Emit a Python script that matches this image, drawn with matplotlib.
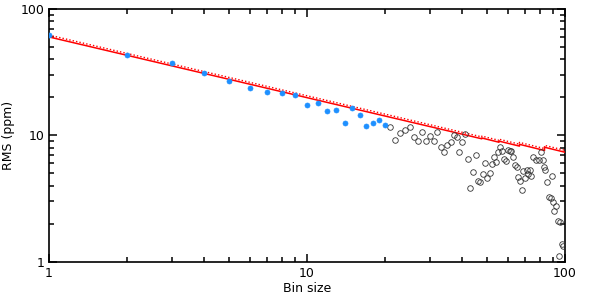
import matplotlib
matplotlib.use("Agg")
import matplotlib.pyplot as plt
from matplotlib.ticker import LogLocator, NullFormatter, FixedLocator, FixedFormatter

# Binned points used in the fit (filled blue)
fit_bins = [1, 2, 3, 4, 5, 6, 7, 8, 9, 10, 11, 12, 13, 14, 15, 16, 17, 18, 19, 20]
fit_rms = [61.8, 42.9, 37.3, 30.9, 27.0, 23.8, 21.9, 21.5, 20.8, 17.4,
           17.9, 15.6, 16.0, 12.5, 16.5, 14.4, 11.9, 12.5, 13.2, 12.0]

# Remaining binned points (open circles)
other_bins = [21, 22, 23, 24, 25, 26, 27, 28, 29, 30, 31, 32, 33, 34, 35, 36, 37, 38, 39, 40,
              41, 42, 43, 44, 45, 46, 47, 48, 49, 50, 51, 52, 53, 54, 55, 56, 57, 58, 59, 60,
              61, 62, 63, 64, 65, 66, 67, 68, 69, 70, 71, 72, 73, 74, 75, 77, 79, 81, 82, 83,
              84, 85, 87, 88, 89, 90, 91, 92, 94, 95, 96, 97, 98]
other_rms = [11.57, 9.13, 10.37, 11.04, 11.57, 9.71, 8.96, 10.64, 8.96, 9.82,
             8.96, 10.56, 8.03, 7.38, 8.39, 8.91, 10.0, 9.76, 7.33, 8.86,
             10.18, 6.50, 3.80, 5.12, 7.03, 4.37, 4.29, 4.94, 6.04, 4.56,
             5.03, 5.93, 6.69, 6.11, 7.38, 8.09, 7.56, 6.45, 6.22, 7.66,
             7.56, 7.46, 6.69, 5.78, 5.64, 4.64, 4.39, 3.69, 5.22, 4.56,
             5.31, 4.94, 5.31, 4.79, 6.69, 6.33, 6.41, 7.38, 6.41, 5.64,
             5.31, 4.27, 3.28, 3.22, 4.81, 2.96, 2.53, 2.77, 2.10, 1.11,
             2.08, 1.39, 1.32]

# Expected white-noise curves (segment end points)
model_bins = [1, 47.6, 47.6, 55.5, 55.5, 66.6, 66.6, 83.3, 83.3, 100]
model_rms = [60.1, 9.39, 9.53, 8.82, 9.00, 8.22, 8.49, 7.59, 8.05, 7.35]
model2_rms = [62.2, 9.72, 9.86, 9.13, 9.32, 8.51, 8.79, 7.86, 8.33, 7.61]

x_ticks = [1, 10, 100]
x_tick_labels = ["1", "10", "100"]
y_ticks = [1, 10, 100]
y_tick_labels = ["1", "10", "100"]

fig = plt.figure(figsize=(5.98, 3.07), dpi=100)
ax = fig.add_axes([0.0819, 0.1476, 0.8629, 0.8231])

ax.plot(model_bins, model2_rms, color="red", lw=1.0, ls=(0, (1, 1.5)), zorder=2)
ax.plot(model_bins, model_rms, color="red", lw=1.1, zorder=3)
ax.plot(other_bins, other_rms, ls="none", marker="o", ms=4.0, mfc="none",
        mec="#333333", mew=0.6, zorder=4)
ax.plot(fit_bins, fit_rms, ls="none", marker="o", ms=3.6, mfc="#1E90FF",
        mec="#1E90FF", mew=0.5, zorder=5)

ax.set_xscale("log")
ax.set_yscale("log")
ax.set_xlim(1, 100)
ax.set_ylim(1, 100)

ax.xaxis.set_major_locator(FixedLocator(x_ticks))
ax.xaxis.set_major_formatter(FixedFormatter(x_tick_labels))
ax.yaxis.set_major_locator(FixedLocator(y_ticks))
ax.yaxis.set_major_formatter(FixedFormatter(y_tick_labels))
ax.xaxis.set_minor_locator(LogLocator(base=10, subs=range(2, 10)))
ax.yaxis.set_minor_locator(LogLocator(base=10, subs=range(2, 10)))
ax.xaxis.set_minor_formatter(NullFormatter())
ax.yaxis.set_minor_formatter(NullFormatter())

ax.tick_params(which="both", direction="in", top=True, right=True, width=1.1,
               labelsize=9, colors="black")
ax.tick_params(which="major", length=6)
ax.tick_params(which="minor", length=3.5)
for s in ax.spines.values():
    s.set_linewidth(1.2)

ax.set_xlabel("Bin size", fontsize=9, labelpad=2)
ax.set_ylabel("RMS (ppm)", fontsize=9, labelpad=4)

fig.savefig("out.png", dpi=100)
